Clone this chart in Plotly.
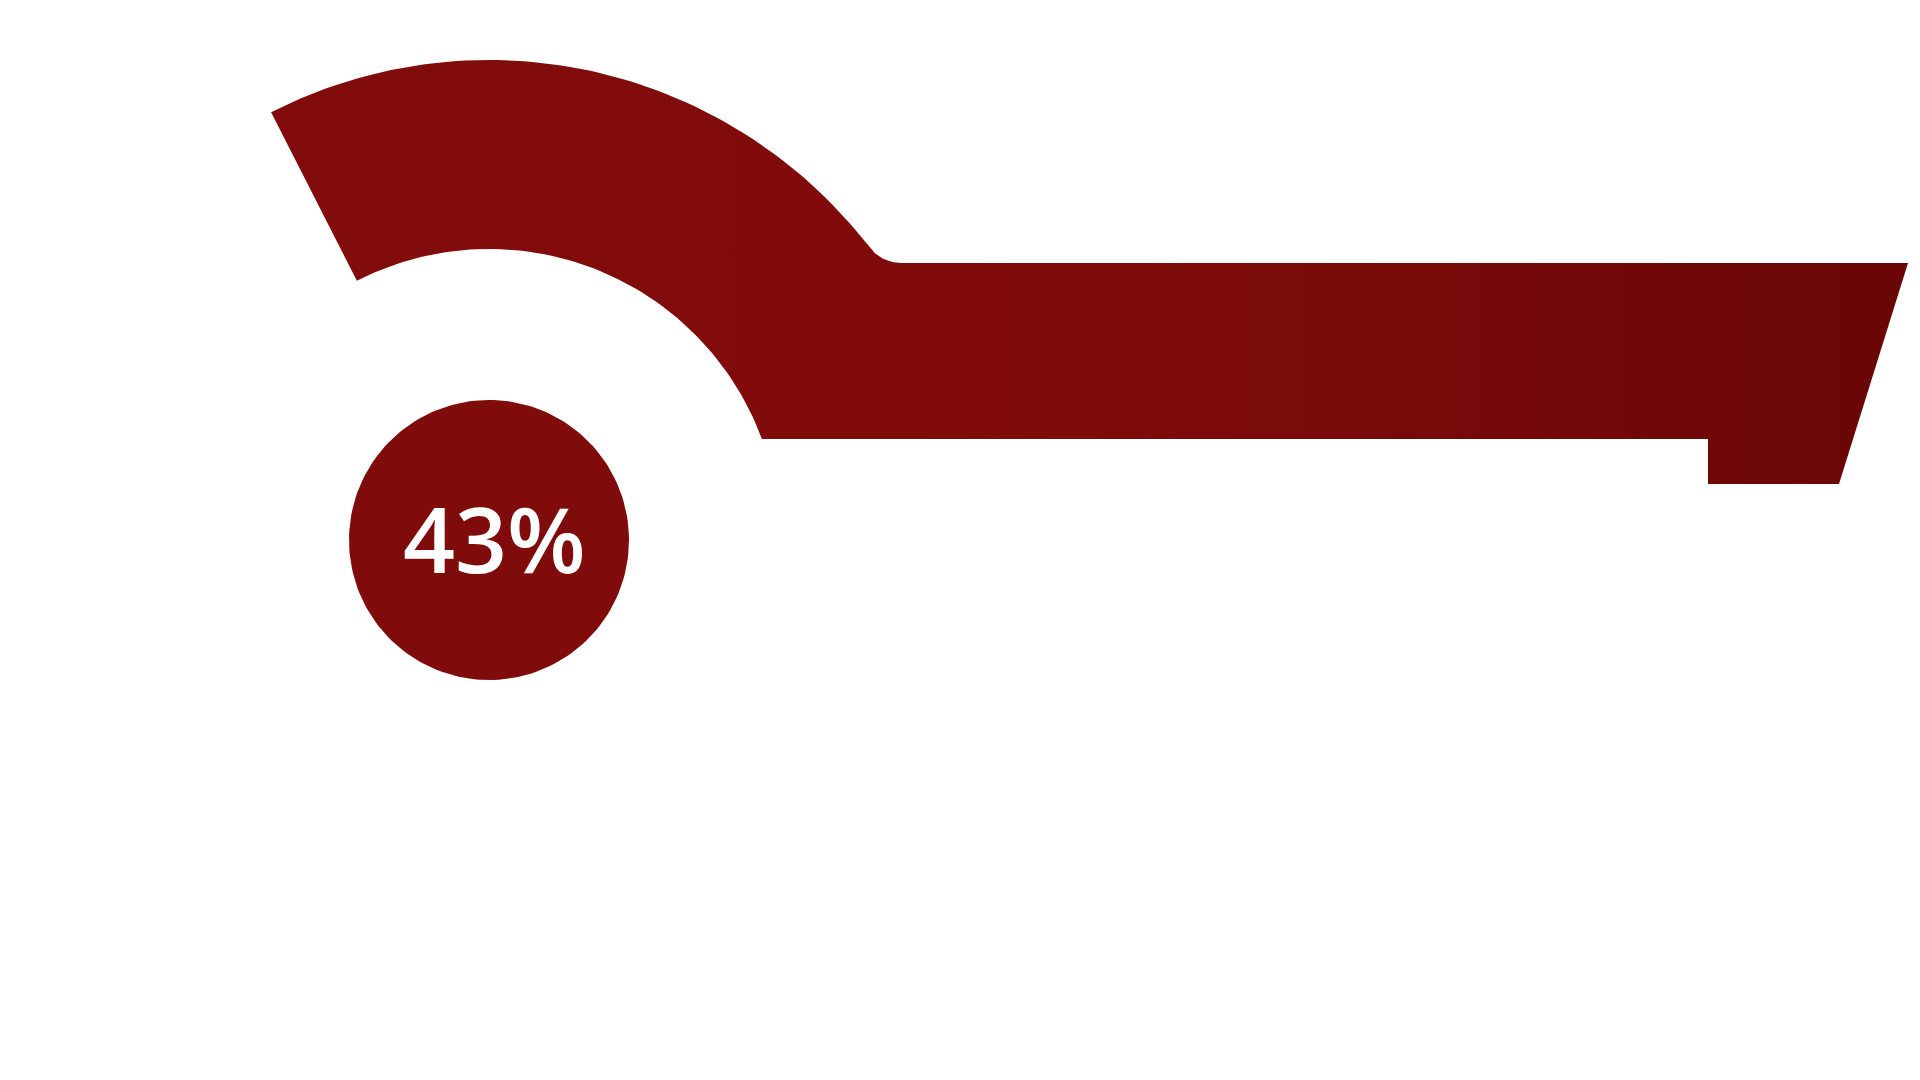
import numpy as np
import plotly.graph_objects as go

# ---- data ----
values = [43]
labels = ["43%"]

# ---- layout constants (pixel space of a 1920x1080 canvas) ----
W, H = 1920, 1080
CX, CY = 489, 540          # gauge centre
R_OUT, R_IN = 480, 291     # arc radii
R_DOT = 140                # centre disc radius
START_DEG = -27            # arc start bearing (clockwise from top)
BAND_TOP, BAND_BOT = 263, 439
BAND_RIGHT_TOP = 1908
BAND_RIGHT_BOT = 1839
NOTCH_X, NOTCH_BOT = 1708, 484
FILLET_R = 40
DARK_RED = "#7f0b0b"


def pt(r, deg):
    t = np.radians(deg)
    return CX + r * np.sin(t), CY - r * np.cos(t)


# fillet between outer arc and band top
fy = BAND_TOP - FILLET_R
dist = R_OUT + FILLET_R
fx = CX + np.sqrt(dist**2 - (CY - fy) ** 2)
tan_x = CX + (fx - CX) * R_OUT / dist
tan_y = CY + (fy - CY) * R_OUT / dist
end_outer_deg = np.degrees(np.arctan2(tan_x - CX, CY - tan_y))

xs, ys = [], []
for d in np.linspace(START_DEG, end_outer_deg, 80):
    x, y = pt(R_OUT, d)
    xs.append(x); ys.append(y)
a0 = np.arctan2(CY - fy, CX - fx)
a1 = np.pi / 2
for a in np.linspace(a0, a1, 20):
    xs.append(fx + FILLET_R * np.cos(a)); ys.append(fy + FILLET_R * np.sin(a))
xs += [BAND_RIGHT_TOP, BAND_RIGHT_BOT, NOTCH_X, NOTCH_X]
ys += [BAND_TOP, NOTCH_BOT, NOTCH_BOT, BAND_BOT]
inner_x = CX + np.sqrt(R_IN**2 - (CY - BAND_BOT) ** 2)
end_inner_deg = np.degrees(np.arctan2(inner_x - CX, CY - BAND_BOT))
for d in np.linspace(end_inner_deg, START_DEG, 80):
    x, y = pt(R_IN, d)
    xs.append(x); ys.append(y)
xs.append(xs[0]); ys.append(ys[0])

fig = go.Figure()
fig.add_trace(go.Scatter(
    x=xs, y=ys, mode="lines", fill="toself", line=dict(width=0, color=DARK_RED),
    fillgradient=dict(type="horizontal",
                      colorscale=[[0, "#820c0c"], [0.5, "#800b0b"], [1, "#6a0606"]]),
    hoverinfo="skip", showlegend=False))

ang = np.linspace(0, 2 * np.pi, 181)
fig.add_trace(go.Scatter(
    x=CX + R_DOT * np.cos(ang), y=CY + R_DOT * np.sin(ang),
    mode="lines", fill="toself", fillcolor=DARK_RED, line=dict(width=0, color=DARK_RED),
    hoverinfo="skip", showlegend=False))

fig.add_annotation(x=CX + 5, y=CY - 2, text=labels[0],
                   showarrow=False, xanchor="center", yanchor="middle",
                   font=dict(family="Open Sans", size=91, color="white", weight=600))

fig.update_layout(
    width=W, height=H, margin=dict(l=0, r=0, t=0, b=0),
    paper_bgcolor="white", plot_bgcolor="white",
    xaxis=dict(range=[0, W], visible=False, fixedrange=True),
    yaxis=dict(range=[H, 0], visible=False, fixedrange=True),
)
fig.write_html("out.html")
